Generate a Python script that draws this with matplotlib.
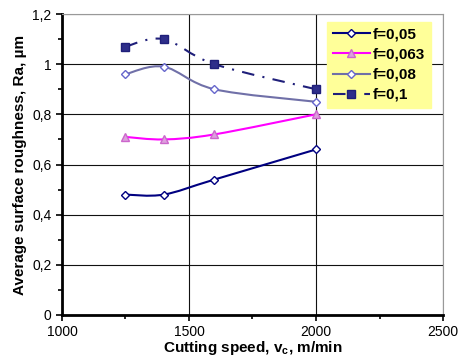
import matplotlib
matplotlib.use("Agg")
import matplotlib.pyplot as plt
from matplotlib.path import Path
from matplotlib.patches import PathPatch
from matplotlib.lines import Line2D
from matplotlib.ticker import MultipleLocator, FuncFormatter

plt.rcParams['font.family'] = ['Liberation Sans', 'DejaVu Sans']

# data
speed = [1250, 1400, 1600, 2000]
ra_005 = [0.48, 0.48, 0.54, 0.66]
ra_0063 = [0.71, 0.70, 0.72, 0.80]
ra_008 = [0.96, 0.99, 0.90, 0.85]
ra_01 = [1.07, 1.10, 1.00, 0.90]
labels = ['f=0,05', 'f=0,063', 'f=0,08', 'f=0,1']


def smooth_path(xs, ys, t=1/6):
    # Excel-like smoothed line: cubic bezier through the points
    verts = [(xs[0], ys[0])]
    codes = [Path.MOVETO]
    n = len(xs)
    for i in range(n - 1):
        x0, y0 = xs[max(i - 1, 0)], ys[max(i - 1, 0)]
        x1, y1 = xs[i], ys[i]
        x2, y2 = xs[i + 1], ys[i + 1]
        x3, y3 = xs[min(i + 2, n - 1)], ys[min(i + 2, n - 1)]
        c1 = (x1 + (x2 - x0) * t, y1 + (y2 - y0) * t)
        c2 = (x2 - (x3 - x1) * t, y2 - (y3 - y1) * t)
        verts += [c1, c2, (x2, y2)]
        codes += [Path.CURVE4] * 3
    return Path(verts, codes)


fig = plt.figure(figsize=(4.59, 3.64), dpi=100)
ax = fig.add_axes([62 / 459, 1 - 315 / 364, 381 / 459, 301 / 364])

series = [
    (ra_005, '#000080', '-', dict(marker='D', ms=4.5, mfc='white', mec='#000080')),
    (ra_0063, '#FF00FF', '-', dict(marker='^', ms=6, mfc='#DDA0DD', mec='#CC66CC')),
    (ra_008, '#7070A8', '-', dict(marker='D', ms=4.5, mfc='white', mec='#6666CC')),
    (ra_01, '#1F1F7A', (0, (6, 4, 1, 4)), dict(marker='s', ms=5.5, mfc='#2E2E8A', mec='#1F1F7A')),
]

handles = []
for (vals, col, ls, mk), lab in zip(series, labels):
    ax.add_patch(PathPatch(smooth_path(speed, vals), fill=False, ec=col, lw=1.5,
                           ls=ls, zorder=3))
    ax.plot(speed, vals, ls='none', zorder=4, **mk)
    handles.append(Line2D([], [], color=col, lw=1.5, ls=ls, **mk))

ax.set_xlim(1000, 2500)
ax.set_ylim(0, 1.2)
ax.xaxis.set_major_locator(MultipleLocator(500))
ax.xaxis.set_minor_locator(MultipleLocator(250))
ax.yaxis.set_major_locator(MultipleLocator(0.2))
ax.yaxis.set_minor_locator(MultipleLocator(0.1))
ax.yaxis.set_major_formatter(FuncFormatter(lambda v, p: ('%g' % round(v, 1)).replace('.', ',')))
ax.grid(True, which='major', color='#111111', lw=0.8)
ax.set_axisbelow(True)

for s in ['left', 'bottom']:
    ax.spines[s].set_linewidth(2)
for s in ['top', 'right']:
    ax.spines[s].set_color('#999999')
ax.tick_params(which='both', direction='out', labelsize=10, width=1.2)
ax.tick_params(which='major', length=4)
ax.tick_params(which='minor', length=3)

ax.set_xlabel('Cutting speed, v$_\\mathregular{c}$, m/min', fontsize=11, fontweight='bold', labelpad=0)
ax.set_ylabel('Average surface roughness, Ra, µm', fontsize=11, fontweight='bold', labelpad=4)

leg = ax.legend(handles, labels, loc='upper left', bbox_to_anchor=(0.695, 0.975),
                frameon=True, fancybox=False, facecolor='#FFFF99', edgecolor='#FFFF99',
                framealpha=1, prop=dict(weight='bold', size=11), handlelength=2.4,
                handletextpad=0.2, labelspacing=0.4, borderpad=0.4, borderaxespad=0)
leg.set_zorder(5)

fig.savefig('out.png', dpi=100)
